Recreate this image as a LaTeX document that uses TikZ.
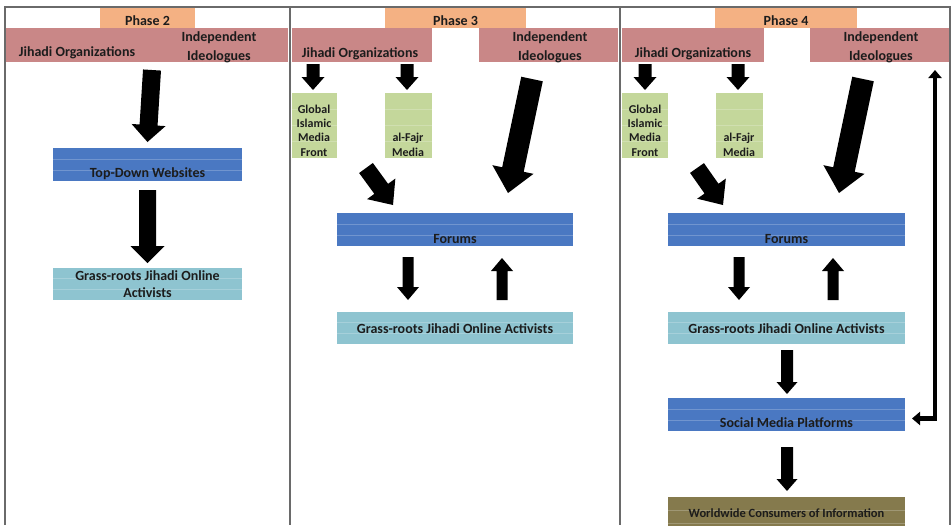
\documentclass[tikz,border=0pt]{standalone}
\usepackage{fontspec}
\setmainfont{Carlito}
\usetikzlibrary{calc,arrows.meta}

\definecolor{phaseorange}{HTML}{F4B183}
\definecolor{barred}{HTML}{C98787}
\definecolor{cellgreen}{HTML}{C4D79B}
\definecolor{cellblue}{HTML}{4A78C2}
\definecolor{celllight}{HTML}{8EC4D0}
\definecolor{cellolive}{HTML}{857A4D}
\definecolor{txt}{HTML}{1C1C1C}
\definecolor{framegray}{HTML}{6A6A6A}

% filled block arrow: tail, tip, half shaft width, half head width, head length
\newcommand\blockarrow[5]{%
  \coordinate (ba-h) at ($(#2)!#5!(#1)$);
  \fill[black] ($(#1)!#3!90:(#2)$) -- ($(ba-h)!#3!90:(#2)$) -- ($(ba-h)!#4!90:(#2)$)
    -- (#2) -- ($(ba-h)!#4!-90:(#2)$) -- ($(ba-h)!#3!-90:(#2)$) -- ($(#1)!#3!-90:(#2)$) -- cycle;
}

\tikzset{
  cell/.style={inner sep=0, outer sep=0, anchor=north west},
  rows/.style={path picture={\foreach \f in {#1}
    \draw[white, opacity=0.22, line width=0.7pt]
      ($(path picture bounding box.north west)!\f!(path picture bounding box.south west)$) --
      ($(path picture bounding box.north east)!\f!(path picture bounding box.south east)$);}},
  phasecell/.style={cell, fill=phaseorange},
  barcell/.style={cell, fill=barred},
  greencell/.style={cell, fill=cellgreen, rows={0.25,0.5,0.75}},
  bluecell/.style={cell, fill=cellblue, rows={0.333,0.667}},
  lightcell/.style={cell, fill=celllight, rows={0.333,0.667}},
  olivecell/.style={cell, fill=cellolive, rows={0.333,0.667}},
  hdr/.style={inner sep=0, anchor=base, text=txt, font=\bfseries\fontsize{14}{16}\selectfont},
  small/.style={inner sep=0, anchor=base, text=txt, align=center, font=\bfseries\fontsize{12}{14.3}\selectfont},
  fine/.style={inner sep=0, anchor=base, text=txt, font=\bfseries\fontsize{12.5}{14}\selectfont},
  framerule/.style={draw=framegray, line width=1.2pt},
}

\begin{document}
\begin{tikzpicture}[x=1pt, y=-1pt]
\useasboundingbox (0,0) rectangle (952,525);
\fill[white] (0,0) rectangle (952,525);

% ---------- phase headers ----------
\node[phasecell, minimum width=95pt, minimum height=21pt] (ph2) at (100,7) {};
\node[phasecell, minimum width=141pt, minimum height=21pt] (ph3) at (385,7) {};
\node[phasecell, minimum width=142pt, minimum height=21pt] (ph4) at (715,7) {};
\node[hdr] (ph2t) at ($(ph2.north)+(0,18)$) {Phase 2};
\node[hdr] (ph3t) at ($(ph3.north)+(0,18)$) {Phase 3};
\node[hdr] (ph4t) at ($(ph4.north)+(0,18)$) {Phase 4};

% ---------- source bars ----------
\node[barcell, minimum width=283pt, minimum height=34pt] (org2) at (5,28) {};
\node[barcell, minimum width=140pt, minimum height=34pt] (org3) at (292,28) {};
\node[barcell, minimum width=139pt, minimum height=34pt] (ii3) at (479,28) {};
\node[barcell, minimum width=142pt, minimum height=34pt] (org4) at (622,28) {};
\node[barcell, minimum width=140pt, minimum height=34pt] (ii4) at (810,28) {};

\node[hdr] (org2t) at (77,56) {Jihadi Organizations};
\node[hdr] (org3t) at (360,57) {Jihadi Organizations};
\node[hdr] (org4t) at (693,57) {Jihadi Organizations};
\begin{scope}
  \clip (org2.north west) rectangle (org2.south east);
  \node[hdr] (ii2a) at (219,41) {Independent};
  \node[hdr] (ii2b) at (219,60) {Ideologues};
\end{scope}
\begin{scope}
  \clip (ii3.north west) rectangle (ii3.south east);
  \node[hdr] (ii3a) at (550,41) {Independent};
  \node[hdr] (ii3b) at (550,60) {Ideologues};
\end{scope}
\begin{scope}
  \clip (ii4.north west) rectangle (ii4.south east);
  \node[hdr] (ii4a) at (881,41) {Independent};
  \node[hdr] (ii4b) at (881,60) {Ideologues};
\end{scope}

% ---------- phase 2 ----------
\node[bluecell, minimum width=189pt, minimum height=33pt] (tdw) at (53,148) {};
\node[hdr] (tdwt) at ($(tdw.south)+(0,-4)$) {Top-Down Websites};
\node[lightcell, minimum width=189pt, minimum height=32pt] (gr2) at (53,268) {};
\node[hdr] (gr2a) at ($(gr2.north)+(0,12)$) {Grass-roots Jihadi Online};
\node[hdr] (gr2b) at ($(gr2.north)+(0,29)$) {Activists};

% ---------- phase 3 ----------
\node[greencell, minimum width=45pt, minimum height=65pt] (gimf3) at (292,93) {};
\node[greencell, minimum width=47pt, minimum height=65pt] (fajr3) at (385,93) {};
\node[small] (gimf3t) at (314,156) {Global\\Islamic\\Media\\Front};
\node[small] (fajr3t) at (408,156) {al-Fajr\\Media};
\node[bluecell, minimum width=236pt, minimum height=33pt] (for3) at (337,213) {};
\node[hdr] (for3t) at ($(for3.south)+(0,-3)$) {Forums};
\node[lightcell, minimum width=236pt, minimum height=32pt] (gr3) at (337,312) {};
\node[hdr] (gr3t) at ($(gr3.north)+(0,21)$) {Grass-roots Jihadi Online Activists};

% ---------- phase 4 ----------
\node[greencell, minimum width=46pt, minimum height=65pt] (gimf4) at (622,93) {};
\node[greencell, minimum width=47pt, minimum height=65pt] (fajr4) at (716,93) {};
\node[small] (gimf4t) at (645,156) {Global\\Islamic\\Media\\Front};
\node[small] (fajr4t) at (739,156) {al-Fajr\\Media};
\node[bluecell, minimum width=237pt, minimum height=33pt] (for4) at (668,213) {};
\node[hdr] (for4t) at ($(for4.south)+(0,-3)$) {Forums};
\node[lightcell, minimum width=237pt, minimum height=32pt] (gr4) at (668,312) {};
\node[hdr] (gr4t) at ($(gr4.north)+(0,21)$) {Grass-roots Jihadi Online Activists};
\node[bluecell, minimum width=237pt, minimum height=33pt] (smp) at (668,398) {};
\node[hdr] (smpt) at ($(smp.south)+(0,-4)$) {Social Media Platforms};
\node[olivecell, minimum width=237pt, minimum height=40pt] (wwc) at (668,497) {};
\node[fine] (wwct) at ($(wwc.north)+(0,20)$) {Worldwide Consumers of Information};

% ---------- arrow end points ----------
\coordinate (a1s) at ($(org2.south)+(5.5,8)$);   \coordinate (a1e) at ($(tdw.north)+(0,-6)$);
\coordinate (a2s) at ($(tdw.south)+(0,9)$);      \coordinate (a2e) at ($(gr2.north)+(0,-5)$);

\coordinate (a3s) at (313,64);  \coordinate (a3e) at (313,90);
\coordinate (a4s) at (407,64);  \coordinate (a4e) at (407,90);
\coordinate (a5s) at (366,168); \coordinate (a5e) at (393,205);
\coordinate (a6s) at (532,79);  \coordinate (a6e) at (508,193);
\coordinate (a7s) at (408,257); \coordinate (a7e) at (408,300);
\coordinate (a8s) at (502,300); \coordinate (a8e) at (502,258);

\coordinate (b3s) at (645,64);  \coordinate (b3e) at (645,90);
\coordinate (b4s) at (738,64);  \coordinate (b4e) at (738,90);
\coordinate (b5s) at (697,168); \coordinate (b5e) at (723,205);
\coordinate (b6s) at (863,79);  \coordinate (b6e) at (839,193);
\coordinate (b7s) at (739,257); \coordinate (b7e) at (739,300);
\coordinate (b8s) at (833,300); \coordinate (b8e) at (833,258);
\coordinate (b9s) at (787,350); \coordinate (b9e) at (787,394);
\coordinate (b10s) at (787,447); \coordinate (b10e) at (787,491);

% ---------- block arrows ----------
\blockarrow{a1s}{a1e}{9pt}{17pt}{17pt}
\blockarrow{a2s}{a2e}{8.5pt}{17pt}{17pt}

\blockarrow{a3s}{a3e}{6.5pt}{11.5pt}{13pt}
\blockarrow{a4s}{a4e}{6.5pt}{11.5pt}{13pt}
\blockarrow{a5s}{a5e}{8.5pt}{17.5pt}{20pt}
\blockarrow{a6s}{a6e}{11pt}{21pt}{24pt}
\blockarrow{a7s}{a7e}{5.5pt}{11pt}{13pt}
\blockarrow{a8s}{a8e}{5.5pt}{11pt}{13pt}

\blockarrow{b3s}{b3e}{6.5pt}{11.5pt}{13pt}
\blockarrow{b4s}{b4e}{6.5pt}{11.5pt}{13pt}
\blockarrow{b5s}{b5e}{8.5pt}{17.5pt}{20pt}
\blockarrow{b6s}{b6e}{11pt}{21pt}{24pt}
\blockarrow{b7s}{b7e}{5.5pt}{11pt}{13pt}
\blockarrow{b8s}{b8e}{5.5pt}{11pt}{13pt}
\blockarrow{b9s}{b9e}{6pt}{10.5pt}{12pt}
\blockarrow{b10s}{b10e}{6pt}{10.5pt}{12pt}

% ---------- feedback loop from social media back to the ideologues ----------
\coordinate (fbtop) at ($(ii4.south west)+(125,8)$);
\coordinate (fbbot) at ($(smp.east)+(7,4)$);
\draw[black, line width=4.5pt, {Triangle[length=8pt,width=13pt]}-{Triangle[length=8pt,width=13pt]}]
  (fbtop) |- (fbbot);

% ---------- column frame ----------
\draw[framerule] (5,525) -- (5,7) -- (950,7) -- (950,525);
\draw[framerule] (290,7) -- (290,525);
\draw[framerule] (620,7) -- (620,525);
\end{tikzpicture}
\end{document}
